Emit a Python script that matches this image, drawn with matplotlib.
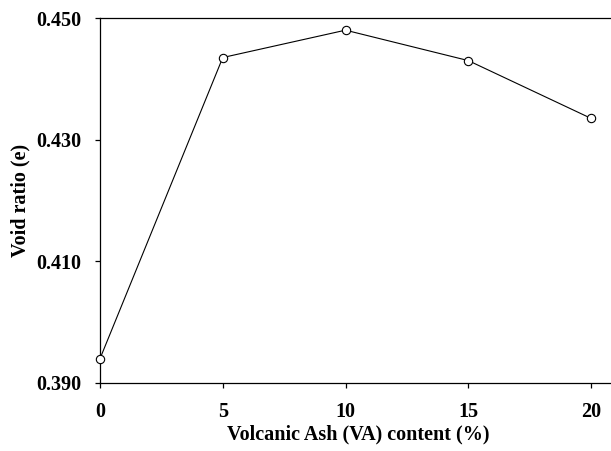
import matplotlib
matplotlib.use("Agg")
import matplotlib.pyplot as plt

# volcanic ash content vs. void ratio
va_content = [0, 5, 10, 15, 20]
void_ratio = [0.394, 0.4435, 0.448, 0.443, 0.4335]
x_ticks = [0, 5, 10, 15, 20]
y_ticks = [0.390, 0.410, 0.430, 0.450]

plt.rcParams['font.family'] = ['Liberation Serif', 'DejaVu Serif']
plt.rcParams['font.weight'] = 'bold'

fig = plt.figure(figsize=(6.11, 4.51), dpi=100)
ax = fig.add_axes([100 / 611, 68 / 451, 515.6 / 611, 365 / 451])

ax.plot(va_content, void_ratio, color='black', linewidth=0.8,
        marker='o', markersize=6, markerfacecolor='white',
        markeredgecolor='black', markeredgewidth=0.8, clip_on=False, zorder=3)

ax.set_xlim(0, 21)
ax.set_ylim(0.390, 0.450)
ax.set_xticks(x_ticks)
ax.set_yticks(y_ticks)
ax.set_yticklabels([f"{v:.3f}" for v in y_ticks])

for s in ['left', 'bottom', 'top']:
    ax.spines[s].set_linewidth(0.9)
ax.spines['right'].set_visible(False)

ax.tick_params(direction='out', length=3.6, width=0.9, pad=10, labelsize=14.5)
for lbl in ax.get_xticklabels() + ax.get_yticklabels():
    lbl.set_fontweight('bold')

ax.set_xlabel('Volcanic Ash (VA) content (%)', fontsize=14.5, fontweight='bold', labelpad=2)
ax.set_ylabel('Void ratio (e)', fontsize=14.5, fontweight='bold', labelpad=4)

fig.savefig('out.png', dpi=100)
